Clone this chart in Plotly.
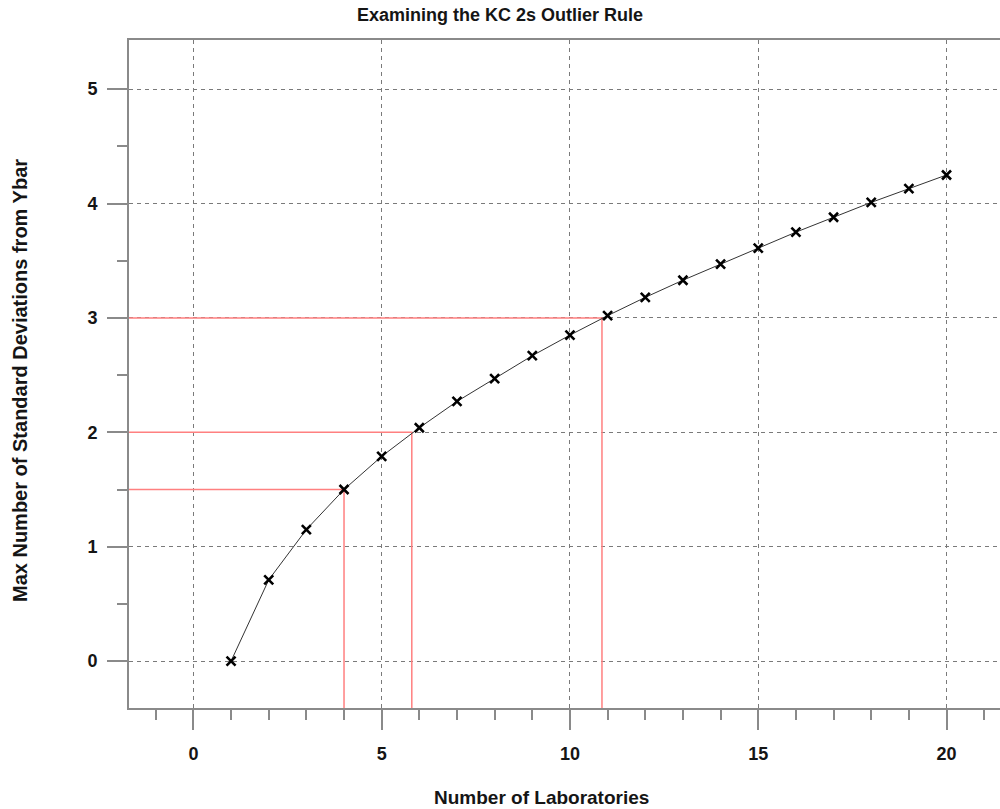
import plotly.graph_objects as go

# Number of laboratories and the largest attainable |Y - Ybar| / s
labs = list(range(1, 21))
max_sd = [0.00, 0.71, 1.15, 1.50, 1.79, 2.04, 2.27, 2.47, 2.67, 2.85,
          3.02, 3.18, 3.33, 3.47, 3.61, 3.75, 3.88, 4.01, 4.13, 4.25]

# Reference levels (in standard deviations) and where the curve reaches them
ref_levels = [1.5, 2.0, 3.0]
ref_labs = [4.0, 5.8, 10.85]

x_range = [-1.71, 21.42]
y_range = [-0.41, 5.43]

x_ticks = [0, 5, 10, 15, 20]
y_ticks = [0, 1, 2, 3, 4, 5]

AXIS_GRAY = "#8a8a8a"
GRID_GRAY = "#7a7a7a"
RED = "#ff8080"
FONT = "Liberation Sans"
TEXT = "#151515"

fig = go.Figure()

# Red guide lines: across from the y axis to the curve, then down to the x axis
for lvl, n in zip(ref_levels, ref_labs):
    fig.add_trace(go.Scatter(
        x=[x_range[0], n, n], y=[lvl, lvl, y_range[0]],
        mode="lines", line=dict(color=RED, width=1.5),
        hoverinfo="skip", showlegend=False, cliponaxis=True,
    ))

fig.add_trace(go.Scatter(
    x=labs, y=max_sd, mode="lines+markers",
    line=dict(color="#333333", width=1),
    marker=dict(symbol="x-thin", size=9, color="black",
                line=dict(width=2.6, color="black")),
    showlegend=False,
))

fig.update_layout(
    width=1000, height=809,
    margin=dict(l=129, r=0, t=40, b=101),
    paper_bgcolor="white", plot_bgcolor="white",
    font=dict(family=FONT, color=TEXT),
    title=dict(text="<b>Examining the KC 2s Outlier Rule</b>",
               x=0.5, xref="container", xanchor="center",
               y=1 - 15 / 809, yref="container", yanchor="middle",
               font=dict(size=18, family=FONT, color=TEXT)),
    xaxis=dict(
        range=x_range, tickvals=x_ticks,
        ticktext=[f"<b>{v}</b>" for v in x_ticks],
        ticks="outside", ticklen=20, tickwidth=2, tickcolor=AXIS_GRAY,
        ticklabelstandoff=8,
        tickfont=dict(size=18, family=FONT, color=TEXT),
        showline=True, linecolor=AXIS_GRAY, linewidth=2, mirror=True,
        showgrid=True, gridcolor=GRID_GRAY, gridwidth=1, griddash="4px,4px",
        zeroline=False,
        minor=dict(dtick=1, tick0=0, ticks="outside", ticklen=10,
                   tickwidth=2, tickcolor=AXIS_GRAY, showgrid=False),
    ),
    yaxis=dict(
        range=y_range, tickvals=y_ticks,
        ticktext=[f"<b>{v}</b>" for v in y_ticks],
        ticks="outside", ticklen=20, tickwidth=2, tickcolor=AXIS_GRAY,
        ticklabelstandoff=6,
        tickfont=dict(size=18, family=FONT, color=TEXT),
        showline=True, linecolor=AXIS_GRAY, linewidth=2,
        showgrid=True, gridcolor=GRID_GRAY, gridwidth=1, griddash="4px,4px",
        zeroline=False,
        minor=dict(dtick=0.5, tick0=0, ticks="outside", ticklen=10,
                   tickwidth=2, tickcolor=AXIS_GRAY, showgrid=False),
    ),
    annotations=[
        dict(text="<b>Number of Laboratories</b>", xref="paper", yref="paper",
             x=(541 - 129) / 871, y=-(798 - 708) / 668,
             xanchor="center", yanchor="middle", showarrow=False,
             font=dict(size=19, family=FONT, color=TEXT)),
        dict(text="<b>Max Number of Standard Deviations from Ybar</b>",
             xref="paper", yref="paper",
             x=-(129 - 20) / 871, y=(708 - 381) / 668,
             xanchor="center", yanchor="middle", textangle=-90,
             showarrow=False,
             font=dict(size=20, family=FONT, color=TEXT)),
    ],
)

fig.write_html("out.html")
